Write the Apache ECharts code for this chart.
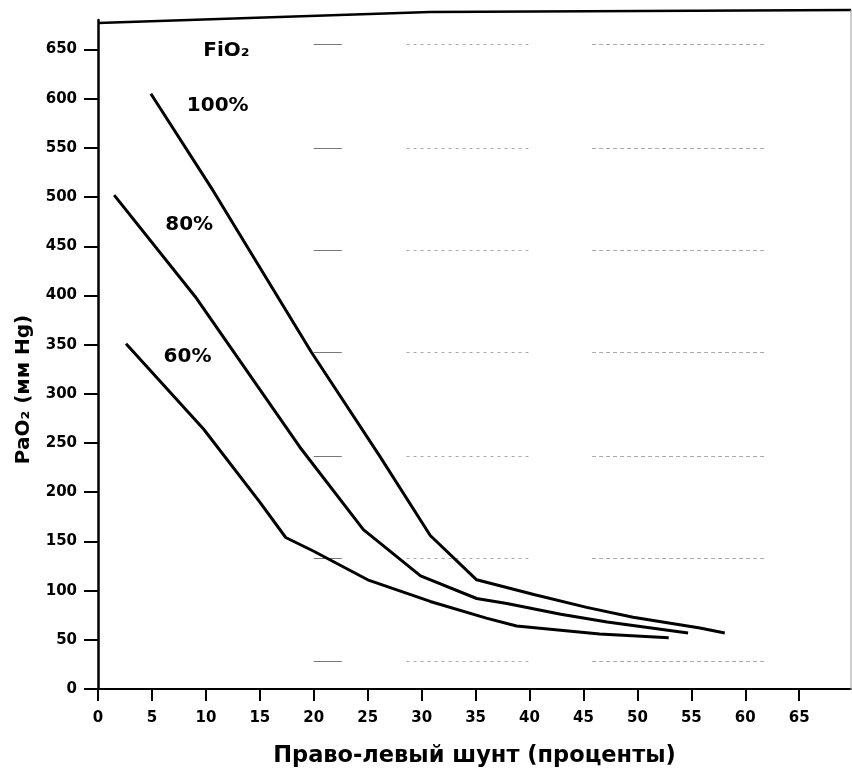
<!DOCTYPE html>
<html>
<head>
<meta charset="utf-8">
<script src="https://cdn.jsdelivr.net/npm/echarts@6/dist/echarts.min.js"></script>
<style>
  html, body { margin: 0; padding: 0; background: #fff; }
  #chart { width: 852px; height: 773px; }
</style>
</head>
<body>
<div id="chart"></div>
<script>
// ---- data ----
const xTicks = [0, 5, 10, 15, 20, 25, 30, 35, 40, 45, 50, 55, 60, 65];
const yTicks = [0, 50, 100, 150, 200, 250, 300, 350, 400, 450, 500, 550, 600, 650];

const fio2_100 = [[4.9, 605], [10.7, 506], [19.8, 342], [26.1, 237], [30.8, 156], [35.1, 111], [40.4, 96], [45.3, 83], [49.6, 73], [55.8, 62], [58.1, 57]];
const fio2_80  = [[1.5, 502], [9.0, 399], [18.7, 246], [24.6, 162], [29.9, 115], [35.1, 92], [37.9, 87], [42.9, 76], [47.2, 68], [54.7, 57]];
const fio2_60  = [[2.6, 351], [9.8, 264], [15.0, 190], [17.4, 154], [20.0, 140], [25.0, 111], [30.8, 89], [36.0, 72], [38.8, 64], [46.5, 56], [52.9, 52]];

const annoText = ['FiO₂', '100%', '80%', '60%'];
const annoX = [11.9, 11.1, 8.45, 8.3];
const annoY = [649, 593, 472, 338];

// faint print-through dashes visible on the scanned page
const ghostY = [655, 550, 446, 342, 237, 133, 28];
const ghostSolid = [20.0, 22.6];
const ghostDot1 = [28.6, 39.9];
const ghostDot2 = [45.8, 62.0];

const FONT = 'DejaVu Sans';

const ghostLines = [];
ghostY.forEach(y => {
  ghostLines.push([{ coord: [ghostSolid[0], y], lineStyle: { color: '#777', type: 'solid', width: 1 } }, { coord: [ghostSolid[1], y] }]);
  ghostLines.push([{ coord: [ghostDot1[0], y], lineStyle: { color: '#aaa', type: [3, 4], width: 1 } }, { coord: [ghostDot1[1], y] }]);
  ghostLines.push([{ coord: [ghostDot2[0], y], lineStyle: { color: '#aaa', type: [4, 3], width: 1 } }, { coord: [ghostDot2[1], y] }]);
});

const lineSeries = (name, data) => ({
  name, type: 'line', data, symbol: 'none', smooth: false, clip: false,
  lineStyle: { color: '#000', width: 3 }, z: 5
});

const chart = echarts.init(document.getElementById('chart'), null, { renderer: 'canvas' });
chart.setOption({
  animation: false,
  backgroundColor: '#fff',
  grid: { left: 98, right: 1, top: 20, bottom: 83, containLabel: false },
  xAxis: {
    type: 'value', min: 0, max: 69.8, interval: 5,
    name: 'Право-левый шунт (проценты)',
    nameLocation: 'middle', nameGap: 56,
    nameTextStyle: { fontFamily: FONT, fontWeight: 'bold', fontSize: 22.5, color: '#000' },
    axisLine: { show: true, onZero: false, lineStyle: { color: '#000', width: 2 } },
    axisTick: { show: true, inside: false, length: 12, customValues: xTicks, lineStyle: { color: '#000', width: 2 } },
    axisLabel: { customValues: xTicks, margin: 22, fontFamily: FONT, fontWeight: 'bold', fontSize: 15, color: '#000' },
    splitLine: { show: false }
  },
  yAxis: {
    type: 'value', min: 0, max: 680, interval: 50,
    name: 'PaO₂ (мм Hg)',
    nameLocation: 'middle', nameGap: 64, nameRotate: 90,
    nameTextStyle: { fontFamily: FONT, fontWeight: 'bold', fontSize: 20, color: '#000', padding: [0, 70, 0, 0] },
    axisLine: { show: true, onZero: false, lineStyle: { color: '#000', width: 2.5 } },
    axisTick: { show: true, inside: false, length: 14, customValues: yTicks, lineStyle: { color: '#000', width: 2 } },
    axisLabel: { customValues: yTicks, margin: 21, fontFamily: FONT, fontWeight: 'bold', fontSize: 15, color: '#000' },
    splitLine: { show: false }
  },
  graphic: [
    { type: 'polyline', silent: true, z: 10,
      shape: { points: [[98, 23], [430, 12], [851, 10]] },
      style: { stroke: '#000', lineWidth: 2.5, fill: null } },
    { type: 'line', silent: true, z: 10,
      shape: { x1: 851, y1: 10, x2: 851, y2: 690 },
      style: { stroke: '#999', lineWidth: 1 } }
  ],
  series: [
    lineSeries('100%', fio2_100),
    lineSeries('80%', fio2_80),
    lineSeries('60%', fio2_60),
    {
      name: 'labels', type: 'scatter', symbolSize: 0, z: 6,
      itemStyle: { opacity: 1, color: '#000' },
      data: annoText.map((t, i) => ({ value: [annoX[i], annoY[i]], name: t })),
      label: {
        show: true, position: 'inside', formatter: p => p.name, opacity: 1,
        fontFamily: FONT, fontWeight: 'bold', fontSize: 20, color: '#000'
      }
    },
    {
      name: 'ghost', type: 'line', data: [], silent: true, z: 1,
      markLine: { symbol: 'none', silent: true, animation: false, label: { show: false }, data: ghostLines }
    }
  ]
});
</script>
</body>
</html>
